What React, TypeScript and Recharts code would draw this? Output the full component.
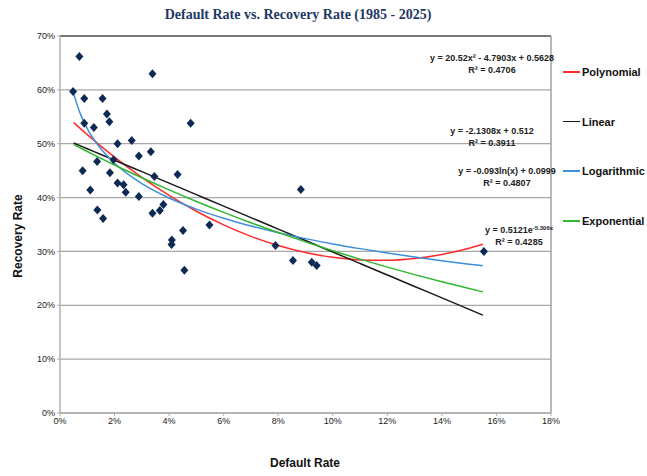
import React from 'react';
import {
  ComposedChart,
  Scatter,
  Line,
  XAxis,
  YAxis,
  CartesianGrid,
  ReferenceLine,
} from 'recharts';

// observed points, one per year 1985 - 2025 (fractions)
const defaultRates = [
  0.0071, 0.0048, 0.0089, 0.0156, 0.0339, 0.0172, 0.0181, 0.0089, 0.0124, 0.0479,
  0.0211, 0.0263, 0.0333, 0.0289, 0.0136, 0.0196, 0.0083, 0.0183, 0.0346, 0.0431,
  0.0111, 0.0211, 0.0233, 0.0241, 0.0289, 0.0137, 0.0158, 0.0339, 0.0366, 0.0379,
  0.0451, 0.041, 0.0409, 0.0456, 0.0548, 0.0883, 0.079, 0.0854, 0.0923, 0.0941,
  0.1554,
];
const recoveryRates = [
  0.662, 0.597, 0.584, 0.584, 0.63, 0.555, 0.541, 0.538, 0.53, 0.538,
  0.5, 0.506, 0.485, 0.477, 0.467, 0.47, 0.45, 0.446, 0.439, 0.443,
  0.414, 0.427, 0.424, 0.41, 0.402, 0.377, 0.361, 0.371, 0.376, 0.387,
  0.339, 0.321, 0.313, 0.265, 0.349, 0.415, 0.311, 0.283, 0.28, 0.274,
  0.3,
];

// trend line readings
const trendX = [
  0.005, 0.0075, 0.01, 0.015, 0.02, 0.03, 0.04, 0.05, 0.06, 0.07,
  0.08, 0.09, 0.1, 0.11, 0.12, 0.13, 0.14, 0.15, 0.155,
];
const polyFit = [
  0.5394, 0.528, 0.517, 0.4956, 0.4752, 0.4376, 0.404, 0.3746, 0.3493, 0.328,
  0.3109, 0.2979, 0.289, 0.2842, 0.2835, 0.2869, 0.2944, 0.306, 0.3133,
];
const linearFit = [
  0.5013, 0.496, 0.4907, 0.48, 0.4694, 0.4481, 0.4268, 0.4055, 0.3842, 0.3628,
  0.3415, 0.3202, 0.2989, 0.2776, 0.2563, 0.235, 0.2137, 0.1924, 0.1817,
];
const logFit = [
  0.5926, 0.5549, 0.5282, 0.4905, 0.4637, 0.426, 0.3993, 0.3785, 0.3615, 0.3472,
  0.3348, 0.3238, 0.314, 0.3052, 0.2971, 0.2896, 0.2828, 0.2763, 0.2733,
];
const expFit = [
  0.4987, 0.4921, 0.4856, 0.4729, 0.4605, 0.4367, 0.4142, 0.3928, 0.3725, 0.3532,
  0.335, 0.3177, 0.3012, 0.2857, 0.2709, 0.2569, 0.2436, 0.231, 0.225,
];

const xTicks = [0, 0.02, 0.04, 0.06, 0.08, 0.1, 0.12, 0.14, 0.16, 0.18];
const yTicks = [0, 0.1, 0.2, 0.3, 0.4, 0.5, 0.6, 0.7];

const legendItems = [
  { name: 'Polynomial', color: '#ff2a2a' },
  { name: 'Linear', color: '#1a1a1a' },
  { name: 'Logarithmic', color: '#3b8fdc' },
  { name: 'Exponential', color: '#2fb82f' },
];

const points = defaultRates.map((x, i) => ({ x, y: recoveryRates[i] }));
const trend = trendX.map((x, i) => ({
  x,
  poly: polyFit[i],
  lin: linearFit[i],
  log: logFit[i],
  exp: expFit[i],
}));

const pct = (v: number) => `${Math.round(v * 100)}%`;

const Diamond = (props: any) => {
  const { cx, cy } = props;
  if (cx == null || cy == null) return null;
  return (
    <path
      d={`M${cx},${cy - 4.5} L${cx + 4},${cy} L${cx},${cy + 4.5} L${cx - 4},${cy} Z`}
      fill="#0c2a54"
    />
  );
};

const eqStyle: React.CSSProperties = {
  position: 'absolute',
  fontFamily: 'Liberation Sans, Arial, sans-serif',
  fontSize: 9,
  fontWeight: 700,
  color: '#222',
  transform: 'translateX(-50%)',
  whiteSpace: 'nowrap',
  lineHeight: '12px',
  textAlign: 'center',
};

const App: React.FC = () => {
  return (
    <div style={{ position: 'absolute', left: 0, top: 0, width: 647, height: 476, background: '#fff' }}>
      <div
        style={{
          position: 'absolute',
          left: 298,
          top: 7,
          transform: 'translateX(-50%)',
          fontFamily: 'Liberation Serif, serif',
          fontWeight: 700,
          fontSize: 14,
          color: '#1f3864',
          whiteSpace: 'nowrap',
        }}
      >
        Default Rate vs. Recovery Rate (1985 - 2025)
      </div>

      <ComposedChart
        width={647}
        height={476}
        data={trend}
        margin={{ top: 36, right: 96, left: 10, bottom: 43 }}
        style={{ position: 'absolute', left: 0, top: 0 }}
      >
        <CartesianGrid horizontal vertical={false} stroke="#a8a8a8" strokeWidth={1.3} />
        <XAxis
          type="number"
          dataKey="x"
          domain={[0, 0.18]}
          ticks={xTicks}
          tickFormatter={pct}
          axisLine={{ stroke: '#b0b0b0', strokeWidth: 1.5 }}
          tickLine={{ stroke: '#b0b0b0' }}
          tickSize={3}
          tick={{ fontSize: 9, fill: '#222', fontFamily: 'Liberation Sans, Arial, sans-serif' }}
          height={20}
          allowDataOverflow
        />
        <YAxis
          type="number"
          domain={[0, 0.7]}
          ticks={yTicks}
          tickFormatter={pct}
          axisLine={{ stroke: '#b0b0b0', strokeWidth: 1.5 }}
          tickLine={{ stroke: '#b0b0b0' }}
          tickSize={3}
          tick={{ fontSize: 9, fill: '#222', fontFamily: 'Liberation Sans, Arial, sans-serif' }}
          width={50}
          allowDataOverflow
        />
        <ReferenceLine y={0.7} stroke="#7a7a7a" strokeWidth={2} />
        <ReferenceLine x={0.18} stroke="#a0a0a0" strokeWidth={1.5} />
        <Line type="monotone" dataKey="poly" stroke="#ff2a2a" strokeWidth={1.5} dot={false} isAnimationActive={false} />
        <Line type="monotone" dataKey="lin" stroke="#1a1a1a" strokeWidth={1.5} dot={false} isAnimationActive={false} />
        <Line type="monotone" dataKey="log" stroke="#3b8fdc" strokeWidth={1.5} dot={false} isAnimationActive={false} />
        <Line type="monotone" dataKey="exp" stroke="#2fb82f" strokeWidth={1.5} dot={false} isAnimationActive={false} />
        <Scatter data={points} dataKey="y" shape={<Diamond />} isAnimationActive={false} />
      </ComposedChart>

      {/* legend */}
      <div
        style={{
          position: 'absolute',
          left: 563,
          top: 47,
          fontFamily: 'Liberation Sans, Arial, sans-serif',
          fontSize: 11,
          fontWeight: 700,
        }}
      >
        {legendItems.map((it) => (
          <div key={it.name} style={{ display: 'flex', alignItems: 'center', height: 49.7 }}>
            <span style={{ display: 'inline-block', width: 17, height: 1.5, background: it.color, marginRight: 2 }} />
            <span style={{ color: '#111' }}>{it.name}</span>
          </div>
        ))}
      </div>

      <div style={{ ...eqStyle, left: 492, top: 52 }}>
        y = 20.52x² - 4.7903x + 0.5628
        <br />
        R² = 0.4706
      </div>
      <div style={{ ...eqStyle, left: 492, top: 125 }}>
        y = -2.1308x + 0.512
        <br />
        R² = 0.3911
      </div>
      <div style={{ ...eqStyle, left: 507, top: 165 }}>
        y = -0.093ln(x) + 0.0999
        <br />
        R² = 0.4807
      </div>
      <div style={{ ...eqStyle, left: 519, top: 222 }}>
        y = 0.5121e<sup style={{ fontSize: 6, verticalAlign: 3 }}>-5.306x</sup>
        <br />
        R² = 0.4285
      </div>

      <div
        style={{
          position: 'absolute',
          left: 305,
          top: 456,
          transform: 'translateX(-50%)',
          fontFamily: 'Liberation Sans, Arial, sans-serif',
          fontWeight: 700,
          fontSize: 12,
          color: '#111',
        }}
      >
        Default Rate
      </div>
      <div
        style={{
          position: 'absolute',
          left: 18,
          top: 236,
          transform: 'translate(-50%, -50%) rotate(-90deg)',
          fontFamily: 'Liberation Sans, Arial, sans-serif',
          fontWeight: 700,
          fontSize: 12,
          color: '#111',
          whiteSpace: 'nowrap',
        }}
      >
        Recovery Rate
      </div>
    </div>
  );
};

export default App;
